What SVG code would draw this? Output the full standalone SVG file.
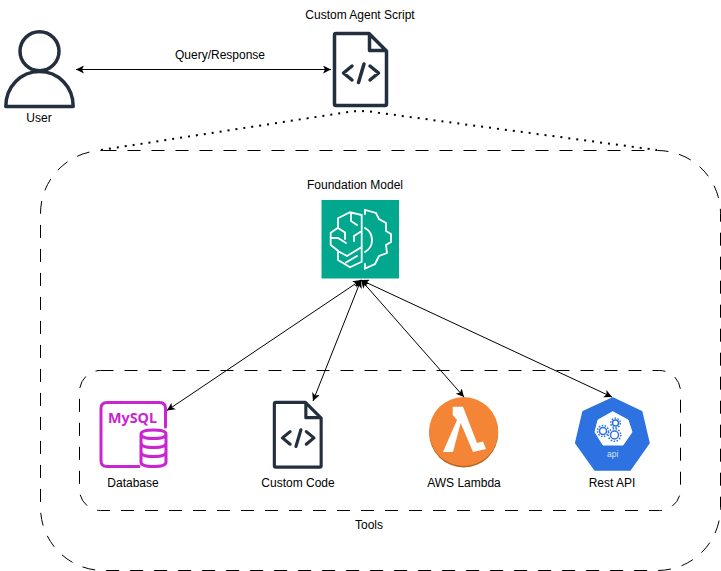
<svg xmlns="http://www.w3.org/2000/svg" width="721" height="571" viewBox="0 0 721 571">
<style>
text{font-family:"Liberation Sans",Arial,sans-serif;font-size:12px;fill:#000;text-anchor:middle}
.ink{fill:none;stroke:#232f3e;stroke-width:3.500;stroke-linejoin:round;stroke-linecap:round}
.dash{fill:none;stroke:#000;stroke-width:1;stroke-dasharray:13 11}
.dot{fill:none;stroke:#000;stroke-width:2;stroke-dasharray:2 6}
.link{fill:none;stroke:#000;stroke-width:1;marker-start:url(#a);marker-end:url(#b)}
.w{fill:none;stroke:#fff;stroke-width:1.800;stroke-linejoin:miter;stroke-linecap:round}
.m{fill:none;stroke:#c925d1;stroke-width:3;stroke-linejoin:round;stroke-linecap:round}
</style>
<defs>
<marker id="b" markerWidth="10" markerHeight="10" refX="8" refY="4" orient="auto" markerUnits="userSpaceOnUse"><path d="M0 0L8 4L0 8L2 4Z" fill="#000"/></marker>
<marker id="a" markerWidth="10" markerHeight="10" refX="0" refY="4" orient="auto" markerUnits="userSpaceOnUse"><path d="M8 0L0 4L8 8L6 4Z" fill="#000"/></marker>
<g id="doc">
<path class="ink" d="M336 33.500H369L386.500 51V104Q386.500 105.500 385 105.500H336Q334.500 105.500 334.500 104V35Q334.500 33.500 336 33.500ZM369.500 34V50.500H386"/>
<path class="ink" d="M352 66L343.500 73L352 80M370 66L378.500 73L370 80M358.500 82.500L364 64"/>
</g>
</defs>
<g id="containers">
<rect id="foundation-frame" class="dash" x="40.500" y="150.500" width="680" height="420" rx="63"/>
<rect id="tools-frame" class="dash" x="79.500" y="370.500" width="601" height="140" rx="21"/>
</g>
<g id="connectors">
<path class="link" d="M76 69.500H331"/>
<path class="dot" d="M101 150L345 112.500Q362 109.500 380 113L657 150"/>
<path class="link" d="M361 280L167 410.500"/>
<path class="link" d="M361 280L313 401"/>
<path class="link" d="M361 280L464 397"/>
<path class="link" d="M361 280L612 397"/>
</g>
<g id="user">
<circle class="ink" cx="39.500" cy="51.300" r="19.500"/>
<path class="ink" d="M5.800 106.500C5.800 86.500 21 71.500 39.500 71.500S73.200 86.500 73.200 106.500Z"/>
<text x="39" y="122">User</text>
</g>
<g id="agent-script">
<use href="#doc"/>
<text x="360" y="19">Custom Agent Script</text>
</g>
<g id="foundation-model">
<text x="355" y="189">Foundation Model</text>
<rect x="321.500" y="200" width="77.500" height="78.500" fill="#01a88d"/>
<path class="w" d="M361.700 215V261.700L350 267.300L338 260V250.700L330.700 245V232.700L338 227.700V218.300L350 212.300ZM351 213V221L357 225M338 228L345 232.500V239M361.700 231L354 236V241M331 238H338L346 243M361.700 247L347 256L338 251M346 262.500L357 256"/>
<path class="w" d="M365 214V210L376 213L379 219L386 223V231L391 234V242L386 245L387 253L379 256L375 264L365 268.500V264M365 228Q372 232 372 240T365 252"/>
</g>
<g id="database">
<path class="m" d="M139 466.500H107Q101 466.500 101 460.500V408.500Q101 402.500 107 402.500H159.500Q165.500 402.500 165.500 408.500V427"/>
<text x="132.500" y="423" textLength="49" lengthAdjust="spacingAndGlyphs" style="font-family:'Noto Sans','Liberation Sans',sans-serif;font-size:15px;font-weight:700;fill:#c925d1">MySQL</text>
<path class="m" d="M141 434Q141 430 153.500 430T166 434V462Q166 466.500 153.500 466.500T141 462ZM141 434Q141 438.500 153.500 438.500T166 434M141 443Q141 447.500 153.500 447.500T166 443M141 452Q141 456.500 153.500 456.500T166 452"/>
<text x="133" y="487">Database</text>
</g>
<g id="custom-code">
<use href="#doc" transform="translate(-26.700 372.200) scale(.9)"/>
<text x="298" y="487">Custom Code</text>
</g>
<g id="aws-lambda">
<circle cx="463.700" cy="433" r="34.500" fill="#b5651d"/>
<circle cx="463.700" cy="431.500" r="34.500" fill="#f58536"/>
<path d="M452.700 406.700H463L477 443L483 441.500L486 449L473 452L460.700 423L453 452H443L457 420L452.700 415Z" fill="#fff"/>
<text x="464" y="487">AWS Lambda</text>
</g>
<g id="rest-api">
<path d="M612.700 398L641.700 411.700L649 443L630 470H595L575.700 443L583 411.700Z" fill="#2d72e0" stroke="#2d72e0" stroke-width="1.500" stroke-linejoin="round"/>
<path d="M612.700 411.700L628 420L632 432L623 445H603L595 432L598 420Z" fill="#fff" stroke="#fff" stroke-linejoin="round"/>
<g fill="none" stroke="#2d72e0" stroke-width="1.500"><circle cx="603" cy="431" r="3.500"/><circle cx="615.500" cy="423" r="3"/><circle cx="614.500" cy="435" r="4"/></g>
<g fill="none" stroke="#2d72e0" stroke-width="1.500" stroke-dasharray="1.500 1.500"><circle cx="603" cy="431" r="5.500"/><circle cx="615.500" cy="423" r="4.800"/><circle cx="614.500" cy="435" r="6.300"/></g>
<text x="612.700" y="456.500" style="font-size:8.500px;fill:#d8e6fa">api</text>
<text x="612" y="487">Rest API</text>
</g>
<text id="tools-label" x="369" y="529">Tools</text>
<text id="link-label" x="220" y="59">Query/Response</text>
</svg>
